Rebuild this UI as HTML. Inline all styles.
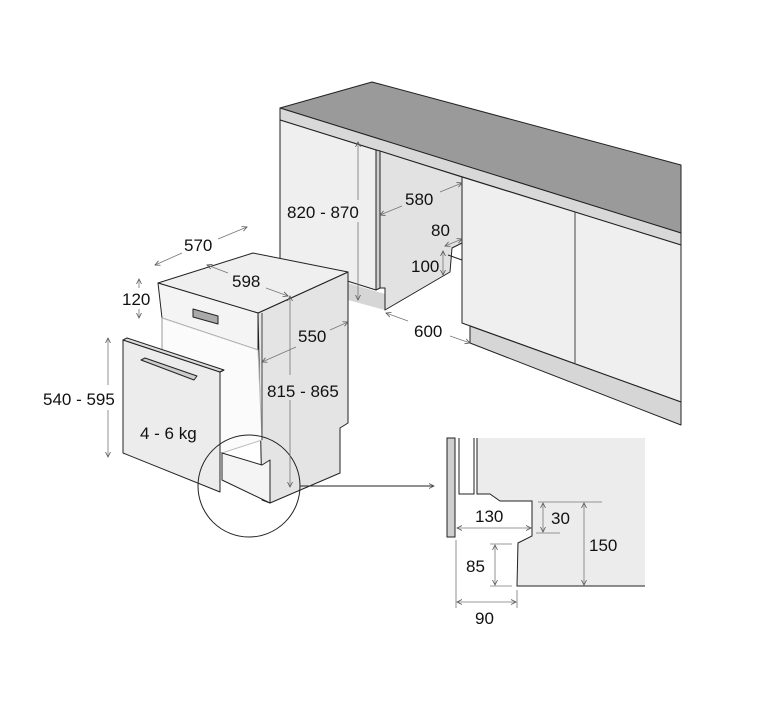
<!DOCTYPE html>
<html><head><meta charset="utf-8"><style>
html,body{margin:0;padding:0;background:#fff;}
svg{display:block;}
text{font-family:"Liberation Sans",sans-serif;font-size:17px;fill:#111;}
</style></head><body>
<svg width="767" height="704" viewBox="0 0 767 704" xmlns="http://www.w3.org/2000/svg">
<defs>
<marker id="a" markerWidth="6" markerHeight="6" refX="5" refY="3" orient="auto-start-reverse" markerUnits="userSpaceOnUse">
<path d="M0,0.5 L5,3 L0,5.5" fill="none" stroke="#555" stroke-width="0.8"/></marker>
</defs>
<g stroke="#222" stroke-width="1" stroke-linejoin="round">
<!-- worktop -->
<polygon points="280,108 372,82 681,165 681,233" fill="#9a9a9a"/>
<polygon points="280,108 681,233 681,245 280,120" fill="#d8d8d8"/>
<!-- left cabinet -->
<polygon points="280,120 376,150 376,290 280,260" fill="#efefef"/>
<polygon points="376,150 380,151 380,288 376,290" fill="#cfcfcf"/>
<polygon points="348,283 385,294 385,310 348,300" fill="#d6d6d6" stroke="none"/>
<!-- niche -->
<polygon points="380,151 462,177 462,243 452,248 450,272 385,310 385,288 380,288" fill="#e2e2e2"/>
<line x1="448" y1="255" x2="462" y2="260" stroke="#222"/>
<!-- right cabinets -->
<polygon points="462,177 681,245 681,402 462,323" fill="#efefef"/>
<line x1="575" y1="212" x2="575" y2="363" stroke="#444"/>
<polygon points="470,326 681,402 681,425 470,343" fill="#d6d6d6"/>
<!-- dishwasher side -->
<polygon points="258,313 348,272 348,423 340,428 340,473 270,503 262,500" fill="#e4e4e4"/>
<!-- top -->
<polygon points="158,283 253,253 348,272 258,313" fill="#efefef"/>
<!-- panel front -->
<polygon points="158,283 258,313 258,350 162,318" fill="#f4f4f4"/>
<polygon points="193,309 218,316 218,324 193,317" fill="#aaa"/>
<!-- body front -->
<polygon points="162,318 258,350 262,440 222,453 162,433" fill="#fbfbfb" stroke="#bbb"/>
<line x1="162" y1="318" x2="162" y2="400" stroke="#999"/>
<line x1="262" y1="313" x2="262" y2="440" stroke="#444"/>
<!-- plinth -->
<polygon points="222,453 262,465 270,460 270,503 222,480" fill="#f4f4f4"/>
<!-- door -->
<polygon points="123,340 220,372 220,492 123,453" fill="#ececec"/>
<polygon points="123,340 127,338 224,370 220,372" fill="#ddd"/>
<line x1="220" y1="372" x2="224" y2="370"/>
<polygon points="141,360 145,358 197,376 194,380" fill="#ccc"/>
</g>
<!-- circle + pointer -->
<circle cx="249" cy="486" r="51" fill="none" stroke="#222"/>
<line x1="300" y1="486" x2="434" y2="486" stroke="#222" marker-end="url(#a)"/>
<!-- detail -->
<g stroke="#222" stroke-width="1">
<polygon points="477,438 645,438 645,586 517,586 517,543 532,536 532,501 500,501 490,494 477,494" fill="#ececec" stroke="none"/>
<polyline points="477,438 477,494 490,494 500,501 532,501 532,536 518,543 517,586 645,586" fill="none"/>
<rect x="447" y="438" width="8" height="99" fill="#cfcfcf"/>
<polyline points="459,438 459,494 474,494 474,438" fill="none"/>
</g>
<g stroke="#777" stroke-width="0.8" fill="none">
<line x1="457" y1="528" x2="531" y2="528" marker-start="url(#a)" marker-end="url(#a)"/>
<line x1="538" y1="502" x2="602" y2="502"/><line x1="536" y1="533" x2="560" y2="533"/>
<line x1="543" y1="503" x2="543" y2="532" marker-start="url(#a)" marker-end="url(#a)"/>
<line x1="584" y1="503" x2="584" y2="585" marker-start="url(#a)" marker-end="url(#a)"/>
<line x1="490" y1="544" x2="512" y2="544"/><line x1="490" y1="586" x2="512" y2="586"/>
<line x1="495" y1="545" x2="495" y2="585" marker-start="url(#a)" marker-end="url(#a)"/>
<line x1="456" y1="540" x2="456" y2="608"/><line x1="517" y1="590" x2="517" y2="608"/>
<line x1="457" y1="602" x2="516" y2="602" marker-start="url(#a)" marker-end="url(#a)"/>
<!-- main dims -->
<line x1="155" y1="265" x2="182" y2="253" marker-start="url(#a)"/>
<line x1="218" y1="239" x2="247" y2="227" marker-end="url(#a)"/>
<line x1="207" y1="265" x2="228" y2="273" marker-start="url(#a)"/>
<line x1="266" y1="288" x2="288" y2="296" marker-end="url(#a)"/>
<line x1="139" y1="279" x2="139" y2="288" marker-start="url(#a)"/>
<line x1="139" y1="309" x2="139" y2="318" marker-end="url(#a)"/>
<line x1="108" y1="338" x2="108" y2="385" marker-start="url(#a)"/>
<line x1="108" y1="410" x2="108" y2="457" marker-end="url(#a)"/>
<line x1="262" y1="362" x2="296" y2="347" marker-start="url(#a)"/>
<line x1="330" y1="330" x2="348" y2="322" marker-end="url(#a)"/>
<line x1="290" y1="296" x2="290" y2="375" marker-start="url(#a)"/>
<line x1="290" y1="400" x2="290" y2="487" marker-end="url(#a)"/>
<line x1="358" y1="142" x2="358" y2="200" marker-start="url(#a)"/>
<line x1="358" y1="222" x2="358" y2="300" marker-end="url(#a)"/>
<line x1="380" y1="215" x2="402" y2="206" marker-start="url(#a)"/>
<line x1="440" y1="192" x2="462" y2="183" marker-end="url(#a)"/>
<line x1="445" y1="246" x2="462" y2="239" marker-start="url(#a)" marker-end="url(#a)"/>
<line x1="443" y1="251" x2="443" y2="275" marker-start="url(#a)" marker-end="url(#a)"/>
<line x1="386" y1="313" x2="408" y2="321" marker-start="url(#a)"/>
<line x1="450" y1="336" x2="470" y2="343" marker-end="url(#a)"/>
</g>
<text x="184" y="251">570</text>
<text x="232" y="287">598</text>
<text x="122" y="305">120</text>
<text x="43" y="405">540 - 595</text>
<text x="140" y="439">4 - 6 kg</text>
<text x="298" y="342">550</text>
<text x="267" y="397">815 - 865</text>
<text x="287" y="218">820 - 870</text>
<text x="405" y="205">580</text>
<text x="431" y="236">80</text>
<text x="411" y="272">100</text>
<text x="414" y="337">600</text>
<text x="475" y="522">130</text>
<text x="551" y="524">30</text>
<text x="589" y="551">150</text>
<text x="466" y="572">85</text>
<text x="475" y="624">90</text>
</svg>
</body></html>
